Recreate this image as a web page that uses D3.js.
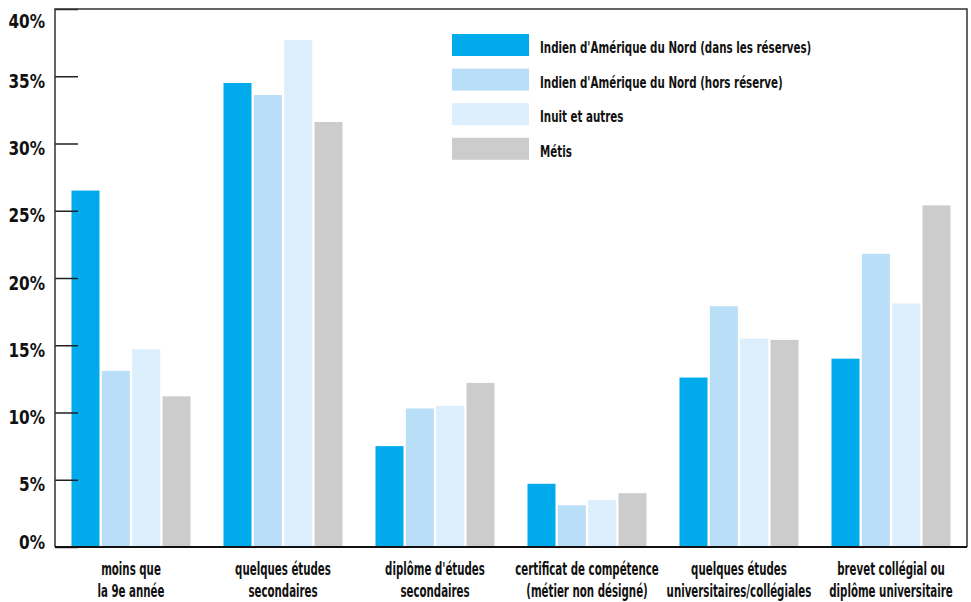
<!DOCTYPE html>
<html lang="fr">
<head>
<meta charset="utf-8">
<script src="https://cdn.jsdelivr.net/npm/d3@7"></script>
<style>
  html, body { margin: 0; padding: 0; background: #ffffff; }
  svg { display: block; }
  text { font-family: "Liberation Sans Narrow", "DejaVu Sans Condensed", "Liberation Sans", sans-serif; font-weight: bold; fill: #111; }
</style>
</head>
<body>
<script>
// Niveau de scolarité par groupe autochtone (%)
const categories = [
  ["moins que", "la 9e année"],
  ["quelques études", "secondaires"],
  ["diplôme d'études", "secondaires"],
  ["certificat de compétence", "(métier non désigné)"],
  ["quelques études", "universitaires/collégiales"],
  ["brevet collégial ou", "diplôme universitaire"]
];
const seriesNames = [
  "Indien d'Amérique du Nord (dans les réserves)",
  "Indien d'Amérique du Nord (hors réserve)",
  "Inuit et autres",
  "Métis"
];
const seriesColors = ["#00aaeb", "#b8dff7", "#dcedfb", "#cccccc"];
const dansReserves = [26.5, 34.5, 7.5, 4.7, 12.6, 14.0];
const horsReserve  = [13.1, 33.6, 10.3, 3.1, 17.9, 21.8];
const inuitAutres  = [14.7, 37.7, 10.5, 3.5, 15.5, 18.1];
const metis        = [11.2, 31.6, 12.2, 4.0, 15.4, 25.4];
const yTickValues = [0, 5, 10, 15, 20, 25, 30, 35, 40];
const yTickLabels = ["0%", "5%", "10%", "15%", "20%", "25%", "30%", "35%", "40%"];

const seriesValues = [dansReserves, horsReserve, inuitAutres, metis];

const W = 971, H = 602;
const margin = { top: 9, right: 4, bottom: 55, left: 55 };

// Facteurs de compression horizontale (police étroite)
const SX_X = 0.67, SX_L = 0.695, SX_Y = 0.85;

const svg = d3.select("body").append("svg").attr("width", W).attr("height", H);

const catKeys = categories.map((c, i) => "c" + i);

const x0 = d3.scaleBand()
  .domain(catKeys)
  .range([margin.left, W - margin.right])
  .paddingInner(0.217)
  .paddingOuter(0.1085);

const x1 = d3.scaleBand()
  .domain(seriesNames)
  .range([0, x0.bandwidth()])
  .paddingInner(0.077)
  .paddingOuter(0);

const y = d3.scaleLinear()
  .domain([0, 40])
  .range([H - margin.bottom, margin.top]);

// Barres
const groups = svg.append("g").selectAll("g")
  .data(catKeys)
  .join("g")
  .attr("transform", d => `translate(${x0(d)},0)`);

groups.selectAll("rect")
  .data((d, i) => seriesNames.map((s, j) => ({ s, j, v: seriesValues[j][i] })))
  .join("rect")
  .attr("x", d => x1(d.s))
  .attr("width", x1.bandwidth())
  .attr("y", d => y(d.v))
  .attr("height", d => y(0) - y(d.v))
  .attr("fill", d => seriesColors[d.j]);

// Axe vertical : graduations tournées vers l'intérieur
const yAxis = d3.axisLeft(y)
  .tickValues(yTickValues)
  .tickFormat((d, i) => yTickLabels[i])
  .tickSize(-23)
  .tickPadding(10);

const yg = svg.append("g")
  .attr("transform", `translate(${margin.left},0)`)
  .call(yAxis);
yg.select(".domain").remove();
yg.selectAll(".tick line").attr("stroke", "#222").attr("stroke-width", 1.5);
yg.selectAll(".tick text")
  .attr("font-size", 20)
  .attr("font-family", null)
  .attr("fill", "#111")
  .attr("dy", null)
  .attr("x", null)
  .attr("dominant-baseline", "central")
  .attr("transform", d => {
    const p = Math.max(margin.top + 11, Math.min(H - margin.bottom - 6, y(d) + 4)) - y(d);
    return `translate(-10,${p}) scale(${SX_Y},1)`;
  });

// Cadre
const frame = svg.append("g").attr("fill", "none").attr("stroke", "#333").attr("stroke-width", 1.5);
frame.append("path")
  .attr("d", `M${margin.left},${H - margin.bottom}V${margin.top}H${W - margin.right}V${H - margin.bottom}`);
frame.append("line")
  .attr("x1", margin.left).attr("x2", W - margin.right)
  .attr("y1", y(0)).attr("y2", y(0))
  .attr("stroke", "#111").attr("stroke-width", 2);

// Étiquettes des catégories
const xl = svg.append("g");
categories.forEach((lines, i) => {
  const cx = x0(catKeys[i]) + x0.bandwidth() / 2;
  lines.forEach((t, k) => {
    xl.append("text")
      .attr("transform", `translate(${cx},${y(0) + 28 + k * 22}) scale(${SX_X},1)`)
      .attr("text-anchor", "middle")
      .attr("font-size", 17)
      .text(t);
  });
});

// Légende
const legend = svg.append("g").attr("transform", "translate(452,34)");
seriesNames.forEach((s, j) => {
  const g = legend.append("g").attr("transform", `translate(0,${j * 34.6})`);
  g.append("rect").attr("width", 77).attr("height", 22).attr("fill", seriesColors[j]);
  g.append("text")
    .attr("transform", `translate(88,19) scale(${SX_L},1)`)
    .attr("font-size", 16.5)
    .text(s);
});
</script>
</body>
</html>
